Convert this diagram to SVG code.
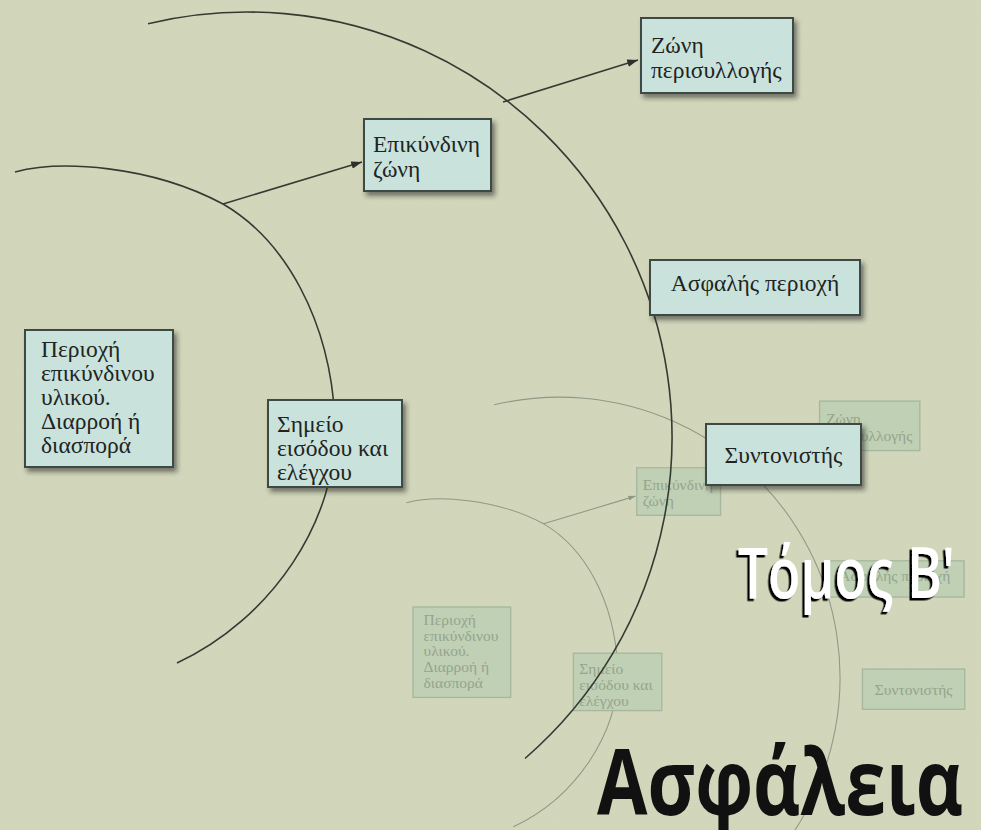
<svg xmlns="http://www.w3.org/2000/svg" width="981" height="830" viewBox="0 0 981 830">
  <style>
    .bg { fill: #d3d7bb; }
    .box { fill: #c9e3dc; stroke: #3c4a45; stroke-width: 2; filter: url(#shadow); }
    .lbl { font-family: "Liberation Serif", "Times New Roman", serif; font-size: 23.5px; fill: #1f2422; }
    .arc { fill: none; stroke: #353a33; stroke-width: 1.6; }
    .conn { fill: none; stroke: #353a33; stroke-width: 1.6; marker-end: url(#arrow); }
    .gbox { fill: #bfd0b4; stroke: #a7b79d; stroke-width: 2; }
    .glbl { font-family: "Liberation Serif", "Times New Roman", serif; font-size: 23.5px; fill: #95a48c; }
    .garc { fill: none; stroke: #8e9a86; stroke-width: 1.6; }
    .gconn { fill: none; stroke: #8e9a86; stroke-width: 1.6; marker-end: url(#garrow); }
    .title { font-family: "Open Sans", "Noto Sans", "DejaVu Sans", sans-serif; }
  </style>
  <defs>
    <filter id="shadow" x="-20%" y="-20%" width="150%" height="160%">
      <feDropShadow dx="3" dy="4" stdDeviation="2.5" flood-color="#1c241e" flood-opacity="0.55"/>
    </filter>
    <filter id="tshadow" x="-10%" y="-10%" width="120%" height="130%">
      <feDropShadow dx="-2.5" dy="2.5" stdDeviation="0.4" flood-color="#000" flood-opacity="1"/>
    </filter>
    <filter id="noise" x="0" y="0" width="100%" height="100%">
      <feTurbulence type="fractalNoise" baseFrequency="0.9" numOctaves="2" seed="4" result="n"/>
      <feColorMatrix in="n" type="matrix" values="0 0 0 0 0.45  0 0 0 0 0.47  0 0 0 0 0.38  0 0 0 0.35 0"/>
    </filter>
    <marker id="arrow" viewBox="0 0 10 7" refX="10" refY="3.5" markerWidth="11" markerHeight="7.5" markerUnits="userSpaceOnUse" orient="auto">
      <path d="M0,0 L10,3.5 L0,7 z" fill="#2c312b"/>
    </marker>
    <marker id="garrow" viewBox="0 0 10 7" refX="10" refY="3.5" markerWidth="11" markerHeight="7.5" markerUnits="userSpaceOnUse" orient="auto">
      <path d="M0,0 L10,3.5 L0,7 z" fill="#8e9a86"/>
    </marker>
  </defs>

  <rect class="bg" x="0" y="0" width="981" height="830"/>
  <rect x="0" y="0" width="981" height="830" filter="url(#noise)" opacity="0.22"/>

  <!-- faded background copy of the diagram -->
  <g id="ghost" transform="translate(396.5,389.2) scale(0.66)">
    <g id="ghost-connectors">
      <path class="garc" d="M15,172 C60,160 150,165 223,204 C285,240 330,320 335,420 C340,520 270,620 177,663"/>
      <path class="garc" d="M148,23.7 A425,425 0 0 1 525,758.5"/>
      <path class="gconn" d="M223,204 L362,162"/>
      <path class="gconn" d="M503,102 L638,60"/>
    </g>
    <g id="ghost-epikindini">
      <rect class="gbox" x="364" y="119" width="127" height="72"/>
      <text class="glbl" x="373" y="152">Επικύνδινη</text>
      <text class="glbl" x="373" y="177">ζώνη</text>
    </g>
    <g id="ghost-perisyllogi">
      <rect class="gbox" x="641" y="18" width="152" height="75"/>
      <text class="glbl" x="651" y="53">Ζώνη</text>
      <text class="glbl" x="651" y="78">περισυλλογής</text>
    </g>
    <g id="ghost-asfalis">
      <rect class="gbox" x="650" y="260" width="210" height="55"/>
      <text class="glbl" x="755" y="291" text-anchor="middle">Ασφαλής περιοχή</text>
    </g>
    <g id="ghost-periochi">
      <rect class="gbox" x="25" y="330" width="148" height="137"/>
      <text class="glbl" x="41" y="357">Περιοχή</text>
      <text class="glbl" x="41" y="381">επικύνδινου</text>
      <text class="glbl" x="41" y="405">υλικού.</text>
      <text class="glbl" x="41" y="429">Διαρροή ή</text>
      <text class="glbl" x="41" y="453">διασπορά</text>
    </g>
    <g id="ghost-simeio">
      <rect class="gbox" x="268" y="400" width="134" height="87"/>
      <text class="glbl" x="277" y="432">Σημείο</text>
      <text class="glbl" x="277" y="456">εισόδου και</text>
      <text class="glbl" x="277" y="480">ελέγχου</text>
    </g>
    <g id="ghost-syntonistis">
      <rect class="gbox" x="706" y="424" width="155" height="61"/>
      <text class="glbl" x="783.5" y="463" text-anchor="middle">Συντονιστής</text>
    </g>
  </g>

  <!-- main diagram -->
  <g id="connectors">
    <path id="arc-inner" class="arc" d="M15,172 C60,160 150,165 223,204 C285,240 330,320 335,420 C340,520 270,620 177,663"/>
    <path id="arc-outer" class="arc" d="M148,23.7 A425,425 0 0 1 525,758.5"/>
    <path id="to-epikindini" class="conn" d="M223,204 L362,162"/>
    <path id="to-perisyllogi" class="conn" d="M503,102 L638,60"/>
  </g>

  <g id="node-epikindini">
    <rect class="box" x="364" y="119" width="127" height="72"/>
    <text class="lbl" x="373" y="152">Επικύνδινη</text>
    <text class="lbl" x="373" y="177">ζώνη</text>
  </g>
  <g id="node-perisyllogi">
    <rect class="box" x="641" y="18" width="152" height="75"/>
    <text class="lbl" x="651" y="53">Ζώνη</text>
    <text class="lbl" x="651" y="78">περισυλλογής</text>
  </g>
  <g id="node-asfalis">
    <rect class="box" x="650" y="260" width="210" height="55"/>
    <text class="lbl" x="755" y="291" text-anchor="middle">Ασφαλής περιοχή</text>
  </g>
  <g id="node-periochi">
    <rect class="box" x="25" y="330" width="148" height="137"/>
    <text class="lbl" x="41" y="357">Περιοχή</text>
    <text class="lbl" x="41" y="381">επικύνδινου</text>
    <text class="lbl" x="41" y="405">υλικού.</text>
    <text class="lbl" x="41" y="429">Διαρροή ή</text>
    <text class="lbl" x="41" y="453">διασπορά</text>
  </g>
  <g id="node-simeio">
    <rect class="box" x="268" y="400" width="134" height="87"/>
    <text class="lbl" x="277" y="432">Σημείο</text>
    <text class="lbl" x="277" y="456">εισόδου και</text>
    <text class="lbl" x="277" y="480">ελέγχου</text>
  </g>
  <g id="node-syntonistis">
    <rect class="box" x="706" y="424" width="155" height="61"/>
    <text class="lbl" x="783.5" y="463" text-anchor="middle">Συντονιστής</text>
  </g>

  <!-- titles -->
  <text class="title" x="738" y="598" font-size="70" font-weight="600" fill="#ffffff" filter="url(#tshadow)" textLength="217" lengthAdjust="spacingAndGlyphs">Τόμος Β'</text>
  <text class="title" x="597" y="815" font-size="92" font-weight="700" fill="#111111" textLength="366" lengthAdjust="spacingAndGlyphs">Ασφάλεια</text>
</svg>
